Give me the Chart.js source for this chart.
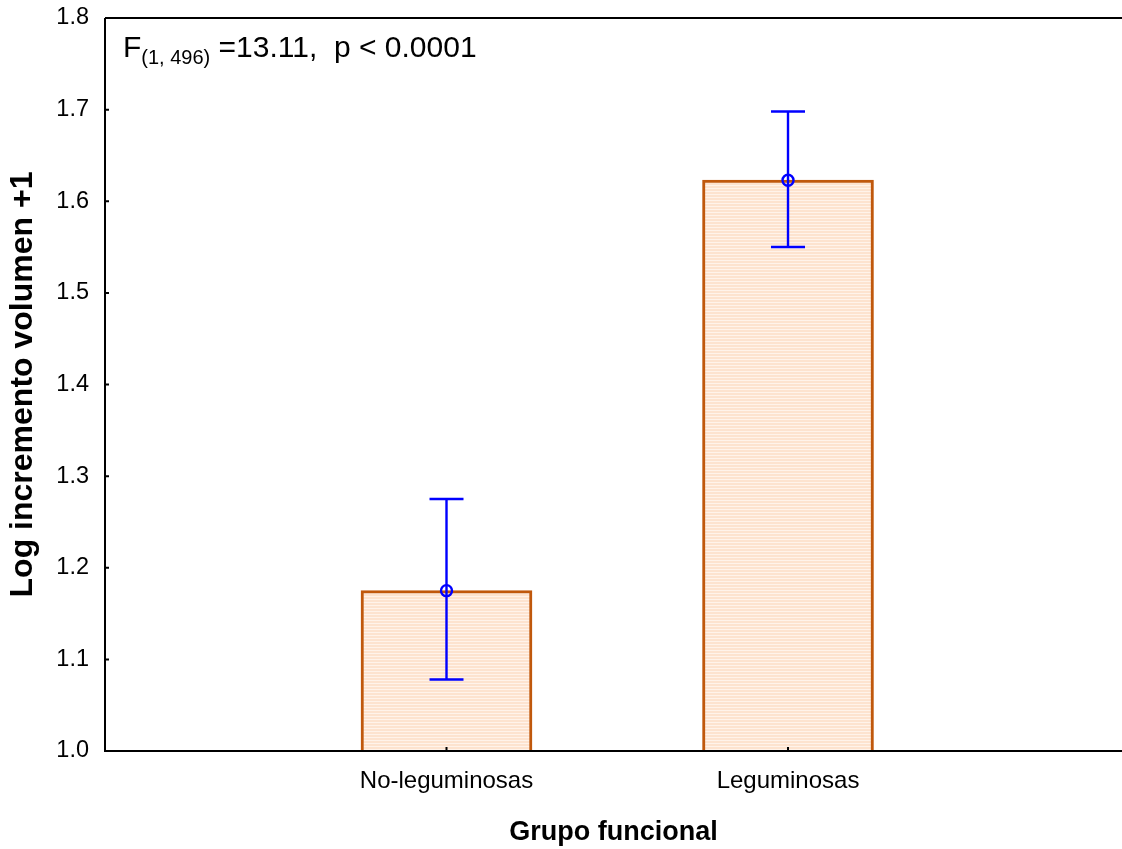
<!DOCTYPE html>
<html>
<head>
<meta charset="utf-8">
<script src="https://cdn.jsdelivr.net/npm/chart.js@4.4.1/dist/chart.umd.min.js"></script>
<style>
  html, body { margin: 0; padding: 0; background: #fff; overflow: hidden; }
  #wrap { width: 1122px; height: 849px; position: relative; }
</style>
</head>
<body>
<div id="wrap"><canvas id="c" width="1122" height="849"></canvas></div>
<script>
// ---- data ----
const categories = ['No-leguminosas', 'Leguminosas'];
const categoryPos = [1, 2];
const means = [1.175, 1.623];
const upperCI = [1.275, 1.698];
const lowerCI = [1.078, 1.550];
const yTicks = [1.0, 1.1, 1.2, 1.3, 1.4, 1.5, 1.6, 1.7, 1.8];
const annotationMain = 'F';
const annotationSub = '(1, 496)';
const annotationRest = ' =13.11,  p < 0.0001';

const FONT = '"Liberation Sans", Arial, sans-serif';

// striped fill pattern
function makePattern() {
  const p = document.createElement('canvas');
  p.width = 4; p.height = 3;
  const g = p.getContext('2d');
  g.fillStyle = '#fde3cf';
  g.fillRect(0, 0, 4, 3);
  g.fillStyle = '#fff3ea';
  g.fillRect(0, 2, 4, 1);
  return document.getElementById('c').getContext('2d').createPattern(p, 'repeat');
}

const errorBars = {
  id: 'errorBars',
  afterDatasetsDraw(chart) {
    const { ctx, scales: { x, y } } = chart;
    ctx.save();
    ctx.strokeStyle = '#0000ff';
    ctx.lineWidth = 2.4;
    for (let i = 0; i < means.length; i++) {
      const px = x.getPixelForValue(categoryPos[i]);
      const pu = y.getPixelForValue(upperCI[i]);
      const pl = y.getPixelForValue(lowerCI[i]);
      const pm = y.getPixelForValue(means[i]);
      ctx.beginPath();
      ctx.moveTo(px, pu); ctx.lineTo(px, pl);
      ctx.moveTo(px - 17, pu); ctx.lineTo(px + 17, pu);
      ctx.moveTo(px - 17, pl); ctx.lineTo(px + 17, pl);
      ctx.stroke();
      ctx.beginPath();
      ctx.arc(px, pm, 5.5, 0, Math.PI * 2);
      ctx.stroke();
    }
    ctx.restore();
  }
};

const frame = {
  id: 'frame',
  afterDraw(chart) {
    const { ctx, chartArea: a, scales: { x, y } } = chart;
    ctx.save();
    ctx.strokeStyle = '#000';
    ctx.lineWidth = 2;
    ctx.beginPath();
    ctx.moveTo(a.left, a.top); ctx.lineTo(a.right + 5, a.top);
    ctx.moveTo(a.left, a.top); ctx.lineTo(a.left, a.bottom);
    ctx.moveTo(a.left - 1, a.bottom); ctx.lineTo(a.right + 5, a.bottom);
    yTicks.forEach(v => {
      const py = y.getPixelForValue(v);
      ctx.moveTo(a.left, py); ctx.lineTo(a.left + 4, py);
    });
    categoryPos.forEach(v => {
      const px = x.getPixelForValue(v);
      ctx.moveTo(px, a.bottom); ctx.lineTo(px, a.bottom - 4);
    });
    ctx.stroke();
    ctx.fillStyle = '#000';
    ctx.textBaseline = 'alphabetic';
    let tx = a.left + 18, ty = a.top + 39;
    ctx.font = '30px ' + FONT;
    ctx.fillText(annotationMain, tx, ty);
    tx += ctx.measureText(annotationMain).width;
    ctx.font = '20px ' + FONT;
    ctx.fillText(annotationSub, tx, ty + 7);
    tx += ctx.measureText(annotationSub).width;
    ctx.font = '30px ' + FONT;
    ctx.fillText(annotationRest, tx, ty);
    ctx.restore();
  }
};

new Chart(document.getElementById('c'), {
  type: 'bar',
  data: {
    datasets: [{
      data: categoryPos.map((p, i) => ({ x: p, y: means[i] })),
      backgroundColor: makePattern(),
      borderColor: '#c0580c',
      borderWidth: 3,
      borderSkipped: false,
      barThickness: 171
    }]
  },
  options: {
    responsive: false,
    animation: false,
    events: [],
    layout: { padding: { top: 18, right: 0, left: 0, bottom: 0 } },
    plugins: { legend: { display: false }, tooltip: { enabled: false } },
    scales: {
      x: {
        type: 'linear',
        min: 0,
        max: 2.978,
        offset: false,
        grid: { display: false, drawTicks: false, offset: false },
        border: { display: false },
        afterBuildTicks(s) { s.ticks = categoryPos.map(v => ({ value: v })); },
        afterFit(s) { s.height = 98; s.paddingLeft = 0; s.paddingRight = 0; },
        ticks: {
          callback: (v) => categories[categoryPos.indexOf(v)] || '',
          color: '#000',
          font: { family: FONT, size: 24 },
          padding: 16,
          maxRotation: 0,
          autoSkip: false
        },
        title: {
          display: true,
          text: 'Grupo funcional',
          color: '#000',
          font: { family: FONT, size: 27, weight: 'bold' },
          padding: { top: 14, bottom: 0 }
        }
      },
      y: {
        min: 1.0,
        max: 1.8,
        grid: { display: false, drawTicks: false },
        border: { display: false },
        afterBuildTicks(s) { s.ticks = yTicks.map(v => ({ value: v })); },
        afterFit(s) { s.width = 105; s.paddingTop = 0; s.paddingBottom = 0; },
        ticks: {
          callback: (v) => v.toFixed(1),
          color: '#000',
          font: { family: FONT, size: 23.5 },
          padding: 16
        },
        title: {
          display: true,
          text: 'Log incremento volumen +1',
          color: '#000',
          font: { family: FONT, size: 32, weight: 'bold' },
          padding: { bottom: 4 }
        }
      }
    }
  },
  plugins: [errorBars, frame]
});
</script>
</body>
</html>
